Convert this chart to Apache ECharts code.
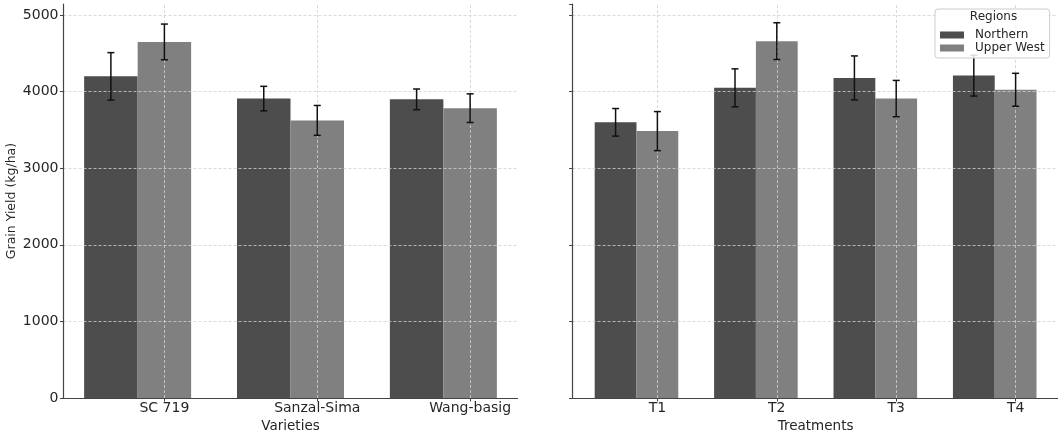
<!DOCTYPE html>
<html>
<head>
<meta charset="utf-8">
<script src="https://cdn.jsdelivr.net/npm/echarts@6/dist/echarts.min.js"></script>
<style>
html,body{margin:0;padding:0;background:#fff;}
#chart{width:1058px;height:432px;}
</style>
</head>
<body>
<div id="chart"></div>
<script>
var varieties = ['SC 719', 'Sanzal-Sima', 'Wang-basig'];
var varNorthern = [4200, 3910, 3900];
var varNorthernErr = [310, 160, 135];
var varUpper = [4650, 3625, 3785];
var varUpperErr = [233, 195, 187];

var treatments = ['T1', 'T2', 'T3', 'T4'];
var trtNorthern = [3600, 4050, 4180, 4210];
var trtNorthernErr = [180, 248, 287, 267];
var trtUpper = [3485, 4660, 3910, 4025];
var trtUpperErr = [255, 240, 237, 215];

var regionNames = ['Northern', 'Upper West'];

var FONT = 'DejaVu Sans';
var C_N = '#4d4d4d', C_U = '#808080';
var BAR_W = 0.35;

function toData(vals, errs) {
  return vals.map(function (v, i) { return [i, v, errs[i]]; });
}

function barRender(offset, color) {
  return function (params, api) {
    var x = api.value(0) + offset, y = api.value(1);
    var tl = api.coord([x - BAR_W / 2, y]);
    var br = api.coord([x + BAR_W / 2, 0]);
    return {type: 'rect', shape: {x: tl[0], y: tl[1], width: br[0] - tl[0], height: br[1] - tl[1]}, style: {fill: color}};
  };
}

function errRender(offset) {
  return function (params, api) {
    var x = api.value(0) + offset, y = api.value(1), e = api.value(2);
    var top = api.coord([x, y + e]);
    var bot = api.coord([x, y - e]);
    var cap = 3.5;
    var st = {stroke: '#111', lineWidth: 1.5};
    return {
      type: 'group',
      children: [
        {type: 'line', shape: {x1: top[0], y1: top[1], x2: bot[0], y2: bot[1]}, style: st},
        {type: 'line', shape: {x1: top[0] - cap, y1: top[1], x2: top[0] + cap, y2: top[1]}, style: st},
        {type: 'line', shape: {x1: bot[0] - cap, y1: bot[1], x2: bot[0] + cap, y2: bot[1]}, style: st}
      ]
    };
  };
}

function vGrid(cats) {
  return {
    silent: true, symbol: 'none', label: {show: false}, z: 5,
    lineStyle: {color: '#d0d0d0', type: [3, 2], width: 0.8},
    data: cats.map(function (c, i) { return {xAxis: i}; })
  };
}

var axisLineStyle = {color: '#444', width: 1.2};
var labelStyle = {color: '#262626', fontFamily: FONT, fontSize: 14};

function xAxisDef(idx, cats, min, max, name) {
  var vals = cats.map(function (c, i) { return i; });
  return {
    type: 'value', gridIndex: idx, min: min, max: max,
    name: name, nameLocation: 'middle', nameGap: 17,
    nameTextStyle: {color: '#262626', fontFamily: FONT, fontSize: 13.5},
    axisLine: {show: true, onZero: false, lineStyle: axisLineStyle},
    axisTick: {show: true, length: 3.5, customValues: vals, lineStyle: {color: '#444'}},
    axisLabel: Object.assign({customValues: vals, margin: 3, formatter: function (v) { return cats[Math.round(v)]; }}, labelStyle),
    splitLine: {show: false}
  };
}

function yAxisDef(idx, showLabel) {
  return {
    type: 'value', gridIndex: idx, min: 0, max: 5145, interval: 1000, z: 10,
    name: showLabel ? 'Grain Yield (kg/ha)' : '', nameLocation: 'middle', nameGap: 45,
    nameTextStyle: {color: '#262626', fontFamily: FONT, fontSize: 12.5},
    axisLine: {show: true, onZero: false, lineStyle: axisLineStyle},
    axisTick: {show: true, length: 3.5, lineStyle: {color: '#444'}},
    axisLabel: Object.assign({show: showLabel, margin: 5, showMaxLabel: false,
      formatter: function (v) { return String(v); }}, labelStyle),
    splitLine: {show: true, showMaxLine: false, showMinLine: false, lineStyle: {color: '#d0d0d0', type: [3, 2], width: 0.8}}
  };
}

function seriesFor(gi, name, color, offset, vals, errs, cats) {
  var bar = {name: name, type: 'custom', xAxisIndex: gi, yAxisIndex: gi, itemStyle: {color: color},
    renderItem: barRender(offset, color), data: toData(vals, errs), z: 2};
  if (cats) bar.markLine = vGrid(cats);
  var err = {name: name + ' error', type: 'custom', xAxisIndex: gi, yAxisIndex: gi, silent: true,
    renderItem: errRender(offset), data: toData(vals, errs), z: 15};
  return [bar, err];
}

var series = [].concat(
  seriesFor(0, regionNames[0], C_N, -BAR_W, varNorthern, varNorthernErr, null),
  seriesFor(0, regionNames[1], C_U, 0, varUpper, varUpperErr, varieties),
  seriesFor(1, regionNames[0], C_N, -BAR_W, trtNorthern, trtNorthernErr, null),
  seriesFor(1, regionNames[1], C_U, 0, trtUpper, trtUpperErr, treatments)
);

var chart = echarts.init(document.getElementById('chart'), null, {renderer: 'canvas'});
chart.setOption({
  animation: false,
  backgroundColor: '#fff',
  title: {
    text: 'Regions', left: 993.5, top: 11, textAlign: 'center', padding: 0, z: 21,
    textStyle: {fontFamily: FONT, fontSize: 12, fontWeight: 'normal', color: '#262626'}
  },
  legend: {
    z: 20, orient: 'vertical', left: 935, top: 9,
    padding: [20, 5, 4, 5], itemGap: 1, itemWidth: 24, itemHeight: 7,
    backgroundColor: 'rgba(255,255,255,0.85)', borderColor: '#cccccc', borderWidth: 1, borderRadius: 3,
    icon: 'rect',
    textStyle: {fontFamily: FONT, fontSize: 12, color: '#262626', padding: [0, 0, 0, 6]},
    data: regionNames
  },
  grid: [
    {left: 63.5, top: 4, width: 454, height: 394, outerBoundsMode: 'none', containLabel: false},
    {left: 572.6, top: 4, width: 486, height: 394, outerBoundsMode: 'none', containLabel: false}
  ],
  xAxis: [
    xAxisDef(0, varieties, -0.66, 2.31, 'Varieties'),
    xAxisDef(1, treatments, -0.71, 3.36, 'Treatments')
  ],
  yAxis: [yAxisDef(0, true), yAxisDef(1, false)],
  series: series
});
</script>
</body>
</html>
